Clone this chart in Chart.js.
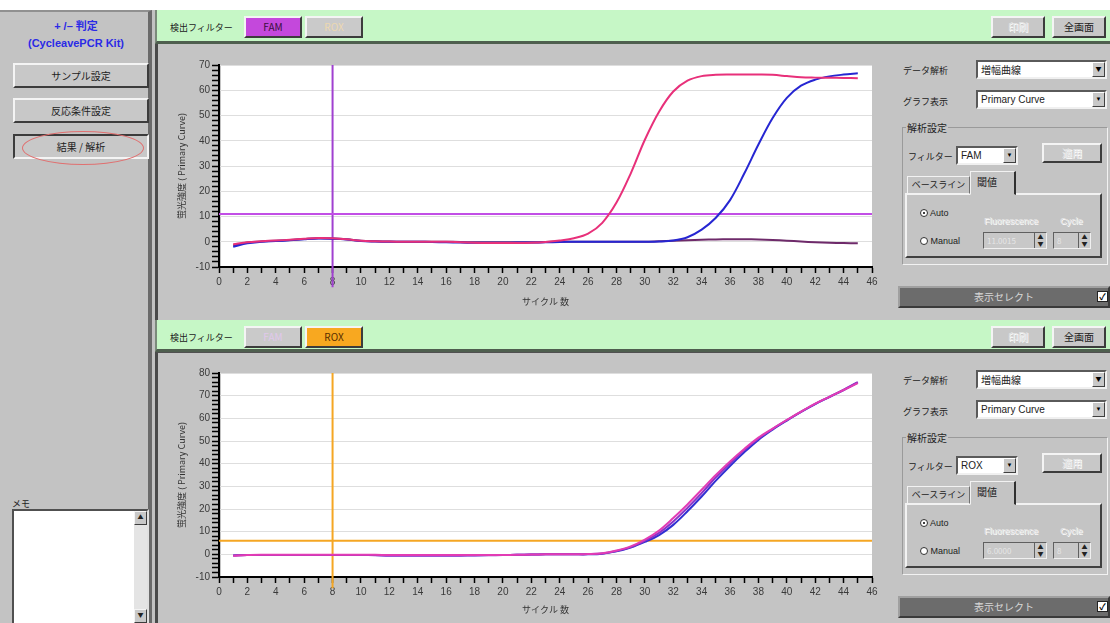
<!DOCTYPE html>
<html><head><meta charset="utf-8">
<script src="https://cdn.jsdelivr.net/npm/chart.js@4.4.0/dist/chart.umd.min.js"></script>
<style>
*{box-sizing:border-box}
body{margin:0;width:1110px;height:623px;overflow:hidden;background:#c2c2c2;font-family:"Noto Sans CJK JP","Noto Sans",sans-serif;font-size:10px;color:#222;position:relative}
.a{position:absolute;white-space:nowrap}
.btn{position:absolute;background:#c8c8c8;border:2px solid;border-color:#f4f4f4 #3c3c3c #3c3c3c #f4f4f4;text-align:center;font-size:10px;color:#222;white-space:nowrap}
.sunk{border-color:#3c3c3c #f4f4f4 #f4f4f4 #3c3c3c}
.green{position:absolute;background:#c6f7c6;border-bottom:3px solid #4e5e4e;border-left:2px solid #7a8a7a}
.panel{position:absolute;background:#c4c4c4;border-left:3px solid #4a4a4a}
.dd{position:absolute;background:#fff;border:2px solid;border-color:#5a5a5a #f0f0f0 #f0f0f0 #5a5a5a;font-size:10px;padding-left:3px;white-space:nowrap}
.dd .ar{position:absolute;right:0;top:0;bottom:0;width:13px;background:#c8c8c8;border:1px solid;border-color:#fff #404040 #404040 #fff;font-size:6px;text-align:center;line-height:12px;color:#000}
.dis{color:#e4e4e4;text-shadow:1px 1px 0 #fff}
.sel{position:absolute;background:#6c6c6c;border:2px solid;border-color:#a0a0a0 #3a3a3a #3a3a3a #a0a0a0;color:#d8d8d8;text-align:center;font-size:10px}
.cb{position:absolute;width:11px;height:11px;background:#fff;border:1px solid #222;font-size:9px;line-height:9px;text-align:center;color:#000;font-weight:bold}
canvas{position:absolute}
</style>
</head><body>
<div class="a" style="left:0;top:0;width:1110px;height:10px;background:#fff"></div>
<div class="a" style="left:0;top:10px;width:152px;height:613px;background:#c3c3c3;border-top:2px solid #909090;border-right:4px solid #6a6a6a"></div>
<div class="a" style="left:0;top:18px;width:152px;text-align:center;color:#2a2ae6;font-weight:bold;font-size:11px;line-height:17px;font-family:'Liberation Sans','Noto Sans CJK JP',sans-serif">+ /&#8211; 判定<br>(CycleavePCR Kit)</div>
<div class="btn" style="left:13px;top:63px;width:136px;height:25px;line-height:21px">サンプル設定</div>
<div class="btn" style="left:13px;top:98px;width:136px;height:25px;line-height:21px">反応条件設定</div>
<div class="btn sunk" style="left:13px;top:134px;width:136px;height:25px;line-height:21px">結果 / 解析</div>
<div class="a" style="left:22px;top:131px;width:122px;height:34px;border:1.5px solid #e07070;border-radius:50%"></div>
<div class="a" style="left:12px;top:497px;font-size:9px">メモ</div>
<div class="a" style="left:12px;top:509px;width:137px;height:118px;background:#fff;border:2px solid;border-color:#505050 #e0e0e0 #e0e0e0 #505050"></div>
<div class="a" style="left:134px;top:511px;width:13px;height:112px;background:#e4e4e4"></div>
<div class="btn" style="left:134px;top:511px;width:13px;height:14px;font-size:6px;line-height:10px;border-width:1px">&#9650;</div>
<div class="btn" style="left:134px;top:609px;width:13px;height:14px;font-size:6px;line-height:10px;border-width:1px">&#9660;</div>

<div id="top"></div>
<div id="bot"></div>

<script>
// ---------- data ----------
const cycles = [1,2,3,4,5,6,7,8,9,10,11,12,13,14,15,16,17,18,19,20,21,22,23,24,25,26,27,28,29,30,31,32,33,34,35,36,37,38,39,40,41,42,43,44,45];
const famPink = [-1.0,-0.2,0.2,0.5,0.8,1.2,1.5,1.4,1.0,0.4,0.2,0.1,0.0,0.0,0.0,0.0,-0.2,-0.4,-0.5,-0.5,-0.5,-0.4,-0.1,0.5,1.4,3.2,7.5,15.5,27.0,40.4,51.5,59.5,63.8,65.6,66.1,66.2,66.2,66.2,66.1,65.6,65.1,65.0,65.0,64.9,64.8];
const famBlue = [-2.0,-0.6,0.0,0.3,0.6,1.0,1.3,1.2,0.9,0.3,0.1,0.0,0.0,0.0,-0.1,-0.2,-0.3,-0.4,-0.4,-0.4,-0.3,-0.3,-0.2,-0.1,0.0,0.0,0.0,0.0,0.0,0.0,0.1,0.5,1.8,4.8,9.5,16.5,27.0,38.5,49.0,57.0,61.8,64.2,65.5,66.2,66.7];
const famPurple = [-1.5,-0.3,0.1,0.4,0.7,1.1,1.4,1.3,1.0,0.4,0.2,0.1,0.0,0.0,0.0,0.0,-0.1,-0.2,-0.2,-0.2,-0.2,-0.2,-0.1,0.0,0.0,0.0,0.0,0.0,0.0,0.0,0.2,0.4,0.6,0.8,0.9,1.0,1.0,0.9,0.7,0.4,0.1,-0.2,-0.4,-0.5,-0.6];
const roxPink = [-0.6,-0.3,-0.2,-0.2,-0.2,-0.2,-0.2,-0.2,-0.2,-0.2,-0.2,-0.3,-0.3,-0.3,-0.3,-0.3,-0.3,-0.3,-0.3,-0.3,-0.2,-0.1,0.0,0.0,0.0,0.1,0.5,1.7,3.5,6.5,10.5,16.0,22.0,28.5,35.0,41.0,46.5,51.5,55.5,59.3,63.0,66.5,69.5,72.5,75.5];
const roxPurple = [-0.5,-0.3,-0.3,-0.3,-0.3,-0.3,-0.3,-0.3,-0.3,-0.3,-0.4,-0.6,-0.6,-0.6,-0.6,-0.6,-0.6,-0.5,-0.4,-0.3,-0.2,-0.1,0.0,0.0,0.0,0.1,0.4,1.5,3.2,6.0,9.5,14.5,20.5,27.0,34.0,40.2,46.0,51.0,55.3,59.2,62.9,66.4,69.5,72.6,76.0];
const roxBlue = [-0.5,-0.3,-0.3,-0.3,-0.3,-0.3,-0.3,-0.3,-0.3,-0.3,-0.3,-0.4,-0.4,-0.4,-0.4,-0.4,-0.4,-0.4,-0.3,-0.3,-0.2,-0.1,0.0,0.0,0.0,0.0,0.3,1.3,3.0,5.5,8.5,13.0,19.0,25.5,32.5,39.0,45.0,50.5,55.0,59.0,62.8,66.3,69.4,72.5,75.8];
const xRange = [0, 46];
const famYRange = [-10, 70];
const roxYRange = [-10, 80];
const famThreshold = 11;
const roxThreshold = 6;
const cursorCycle = 8;
const xTitle = 'サイクル 数';
const yTitle = '蛍光強度 ( Primary Curve)';

// ---------- layout helpers ----------
function panelHTML(top, filter){
  const o = top - 10;
  const famActive = filter==='FAM';
  return `
  <div class="green" style="left:155px;top:${top}px;width:955px;height:${famActive?34:32}px"></div>
  <div class="a" style="left:170px;top:${top+11}px;font-size:9px">検出フィルター</div>
  <div class="btn" style="left:244px;top:${top+6}px;width:58px;height:22px;line-height:18px;${famActive?'background:#c448dc;color:#3a1040':'background:#cacaca;color:#e0c8ec'}">FAM</div>
  <div class="btn" style="left:305px;top:${top+6}px;width:58px;height:22px;line-height:18px;${famActive?'background:#cacaca;color:#ecd8b0':'background:#f8a820;color:#5a3000'}">ROX</div>
  <div class="btn dis" style="left:991px;top:${top+6}px;width:54px;height:22px;line-height:18px">印刷</div>
  <div class="btn" style="left:1052px;top:${top+6}px;width:54px;height:22px;line-height:18px">全画面</div>
  <div class="a" style="left:903px;top:${o+64}px;font-size:9px">データ解析</div>
  <div class="dd" style="left:976px;top:${o+60}px;width:131px;height:19px;line-height:15px">増幅曲線<div class="ar">&#9660;</div></div>
  <div class="a" style="left:903px;top:${o+95}px;font-size:9px">グラフ表示</div>
  <div class="dd" style="left:976px;top:${o+90}px;width:131px;height:19px;line-height:15px;font-family:'Liberation Sans',sans-serif">Primary Curve<div class="ar">&#9660;</div></div>
  <div class="a" style="left:902px;top:${o+127}px;width:206px;height:138px;border:1px solid;border-color:#9a9a9a #f2f2f2 #f2f2f2 #9a9a9a"></div>
  <div class="a" style="left:906px;top:${o+120}px;font-size:10px;background:#c4c4c4;padding:0 1px">解析設定</div>
  <div class="a" style="left:908px;top:${o+150}px;font-size:9px">フィルター</div>
  <div class="dd" style="left:956px;top:${o+146}px;width:62px;height:19px;line-height:15px;font-family:'Liberation Sans',sans-serif">${filter}<div class="ar">&#9660;</div></div>
  <div class="btn dis" style="left:1042px;top:${o+143}px;width:60px;height:20px;line-height:16px">適用</div>
  <div class="a" style="left:905px;top:${o+193}px;width:197px;height:65px;border:2px solid;border-color:#f2f2f2 #404040 #404040 #f2f2f2"></div>
  <div class="a" style="left:907px;top:${o+176}px;width:63px;height:18px;border:1px solid;border-color:#f2f2f2 #707070 transparent #f2f2f2;font-size:9px;text-align:center;line-height:15px">ベースライン</div>
  <div class="a" style="left:970px;top:${o+171}px;width:46px;height:24px;border:1px solid;border-color:#f2f2f2 #303030 transparent #f2f2f2;border-right-width:2px;background:#c4c4c4;font-size:10px;padding-left:6px;line-height:20px">閾値</div>
  <div class="a" style="left:920px;top:${o+208}px;font-size:9px;font-family:'Liberation Sans',sans-serif"><span style="display:inline-block;width:8px;height:8px;border-radius:50%;border:1px solid #333;background:#fff;vertical-align:-1px;position:relative"><span style="position:absolute;left:2px;top:2px;width:2px;height:2px;background:#000;border-radius:50%"></span></span> Auto</div>
  <div class="a" style="left:920px;top:${o+236}px;font-size:9px;font-family:'Liberation Sans',sans-serif"><span style="display:inline-block;width:8px;height:8px;border-radius:50%;border:1px solid #333;background:#fff;vertical-align:-1px"></span> Manual</div>
  <div class="a dis" style="left:984px;top:${o+216}px;font-size:9px;font-family:'Liberation Sans',sans-serif">Fluorescence</div>
  <div class="a dis" style="left:1060px;top:${o+216}px;font-size:9px;font-family:'Liberation Sans',sans-serif">Cycle</div>
  <div class="a" style="left:983px;top:${o+232}px;width:64px;height:17px;background:#c8c8c8;border:1px solid;border-color:#606060 #f0f0f0 #f0f0f0 #606060;font-size:8px;line-height:15px;padding-left:3px;color:#e6e6e6">${filter==='FAM'?'11.0015':'6.0000'}</div>
  <div class="a" style="left:1034px;top:${o+233}px;width:12px;height:15px;border-left:1px solid #606060;font-size:6px;line-height:7px;text-align:center">&#9650;<br>&#9660;</div>
  <div class="a" style="left:1053px;top:${o+232}px;width:38px;height:17px;background:#c8c8c8;border:1px solid;border-color:#606060 #f0f0f0 #f0f0f0 #606060;font-size:8px;line-height:15px;padding-left:3px;color:#e6e6e6">8</div>
  <div class="a" style="left:1078px;top:${o+233}px;width:12px;height:15px;border-left:1px solid #606060;font-size:6px;line-height:7px;text-align:center">&#9650;<br>&#9660;</div>
  <div class="sel" style="left:898px;top:${o+286}px;width:212px;height:22px;line-height:18px">表示セレクト</div>
  <div class="cb" style="left:1097px;top:${o+291}px">&#10003;</div>
  `;
}
document.getElementById('top').innerHTML =
  '<div class="panel" style="left:155px;top:43px;width:955px;height:278px"></div>' + panelHTML(10,'FAM');
document.getElementById('bot').innerHTML =
  '<div class="panel" style="left:155px;top:352px;width:955px;height:271px;border-top:1px solid #505050"></div>' + panelHTML(320,'ROX');

function addCanvas(id, left, top, w, h){
  const c = document.createElement('canvas');
  c.id = id; c.width = w; c.height = h;
  c.style.left = left+'px'; c.style.top = top+'px';
  c.style.width = w+'px'; c.style.height = h+'px';
  document.body.appendChild(c);
  return c;
}

const bgPlugin = {id:'plotbg', beforeDraw(c){
  const {ctx, chartArea:a} = c;
  ctx.save(); ctx.fillStyle = '#ffffff';
  ctx.fillRect(a.left+2, a.top, a.right-a.left-2, a.bottom-a.top);
  ctx.restore();
}};

function pts(vals){ return cycles.map((c,i)=>({x:c, y:vals[i]})); }
function curve(vals, color){
  return {data: pts(vals), borderColor: color, borderWidth: 2, pointRadius: 0, tension: 0.35, fill:false};
}

function makeChart(canvas, series, yRange, threshold, thrColor, curColor, curBottom, xAxisH, topPad){
  const datasets = series.map(s => curve(s.v, s.c));
  datasets.push({data:[{x:xRange[0], y:threshold},{x:xRange[1], y:threshold}], borderColor: thrColor, borderWidth: 2, pointRadius:0});
  datasets.push({data:[{x:cursorCycle, y:yRange[1]},{x:cursorCycle, y:curBottom}], borderColor: curColor, borderWidth: 2, pointRadius:0, clip:false});
  return new Chart(canvas, {
    type: 'line',
    data: {datasets},
    plugins: [bgPlugin],
    options: {
      responsive:false, animation:false, devicePixelRatio:1,
      events: [],
      layout: {padding:{left:0, right:23, top:topPad, bottom:0}},
      plugins:{legend:{display:false}, tooltip:{enabled:false}},
      scales:{
        x:{
          type:'linear', min:xRange[0], max:xRange[1],
          afterFit(s){ s.height = xAxisH; },
          border:{display:true, color:'#000', width:2},
          grid:{drawOnChartArea:false, drawTicks:true, tickLength:6, tickColor:'#000', tickWidth:1.5},
          ticks:{stepSize:1, autoSkip:false, maxRotation:0, padding:3,
            color:'#3a3a3a', font:{family:'Liberation Sans', size:10},
            callback:v => v % 2 === 0 ? String(v) : ''},
          title:{display:true, text:xTitle, color:'#333', font:{family:'Noto Sans CJK JP', size:9}, padding:{top:0,bottom:8}}
        },
        y:{
          min:yRange[0], max:yRange[1],
          afterFit(s){ s.width = 59; },
          border:{display:true, color:'#000', width:2},
          grid:{drawOnChartArea:true, drawTicks:true, tickLength:7, tickColor:'#000', tickWidth:1.5,
            color: ctx => (ctx.tick && ctx.tick.value % 10 === 0) ? '#dedede' : 'rgba(0,0,0,0)'},
          ticks:{stepSize:2, autoSkip:false, padding:2, color:'#3a3a3a', font:{family:'Liberation Sans', size:10},
            callback:v => v % 10 === 0 ? String(v) : ''},
          title:{display:true, text:yTitle, color:'#333', font:{family:'Noto Sans CJK JP', size:9}, padding:{top:16,bottom:0}}
        }
      }
    }
  });
}

const c1 = addCanvas('famChart', 160, 43, 735, 272);
makeChart(c1, [
  {v:famPink, c:'#e8307a'},
  {v:famBlue, c:'#2626d2'},
  {v:famPurple, c:'#6e2a6a'}
], famYRange, famThreshold, '#c24ee6', '#a040d0', -18, 48, 22);

const c2 = addCanvas('roxChart', 160, 352, 735, 271);
makeChart(c2, [
  {v:roxPink, c:'#e23cb4'},
  {v:roxPurple, c:'#8a32c8'},
  {v:roxBlue, c:'#3030d2'}
], roxYRange, roxThreshold, '#f5a623', '#f5a623', -15, 46, 21);
</script>
</body></html>
